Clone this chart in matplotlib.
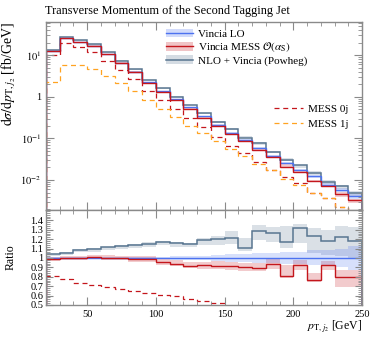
import numpy as np
import matplotlib
matplotlib.use("Agg")
import matplotlib.pyplot as plt
from matplotlib.ticker import FixedLocator, MultipleLocator, FuncFormatter, LogLocator, NullFormatter
from matplotlib.patches import Patch
from matplotlib.lines import Line2D

# ---------------- data ----------------
edges = [20, 30, 40, 50, 60, 70, 80, 90, 100, 110, 120, 130, 140, 150,
         160, 170, 180, 190, 200, 210, 220, 230, 240, 250]

vincia_lo = [12.6, 26.0, 20.9, 16.9, 10.5, 6.6, 4.05, 2.22, 1.39, 0.88, 0.56,
             0.341, 0.211, 0.138, 0.094, 0.059, 0.038, 0.0257, 0.0171,
             0.0122, 0.0077, 0.0058, 0.0041]
vincia_lo_err = [0.01, 0.01, 0.01, 0.01, 0.01, 0.012, 0.012, 0.015, 0.015,
                 0.02, 0.02, 0.025, 0.03, 0.04, 0.04, 0.05, 0.05, 0.06, 0.06,
                 0.08, 0.08, 0.1, 0.13]

vincia_mess = [12.42, 25.9, 20.96, 17.02, 10.53, 6.57, 4.01, 2.19, 1.326,
               0.827, 0.515, 0.315, 0.194, 0.126, 0.0846, 0.0527, 0.0354,
               0.0207, 0.0158, 0.00932, 0.00712, 0.0046, 0.00325]
vincia_mess_up = [0.02, 0.02, 0.02, 0.02, 0.03, 0.03, 0.03, 0.03, 0.04, 0.04,
                  0.04, 0.04, 0.05, 0.05, 0.05, 0.06, 0.06, 0.15, 0.06, 0.1,
                  0.05, 0.1, 0.1]
vincia_mess_dn = [0.02, 0.02, 0.02, 0.02, 0.02, 0.02, 0.03, 0.03, 0.03, 0.03,
                  0.03, 0.04, 0.04, 0.04, 0.04, 0.04, 0.05, 0.02, 0.06, 0.02,
                  0.06, 0.13, 0.13]

nlo_vincia = [13.1, 27.5, 22.7, 18.6, 11.7, 7.46, 4.60, 2.56, 1.63, 1.016,
              0.642, 0.406, 0.253, 0.167, 0.104, 0.0761, 0.0481, 0.0302,
              0.0226, 0.0150, 0.00905, 0.00708, 0.00482]
nlo_up = [0.005, 0.005, 0.005, 0.005, 0.005, 0.008, 0.008, 0.01, 0.01, 0.01,
          0.015, 0.02, 0.03, 0.06, 0.1, 0.05, 0.05, 0.14, 0.03, 0.07, 0.1,
          0.1, 0.13]
nlo_dn = [0.02, 0.02, 0.025, 0.03, 0.03, 0.03, 0.03, 0.03, 0.03, 0.03, 0.03,
          0.04, 0.05, 0.05, 0.03, 0.08, 0.08, 0.06, 0.12, 0.14, 0.12, 0.16,
          0.15]

mess_0j = [10.17, 20.15, 15.36, 12.0, 7.25, 4.42, 2.63, 1.40, 0.838, 0.522,
           0.316, 0.184, 0.111, 0.066, 0.045, 0.0276, 0.0174, 0.0115, 0.0083,
           0.0050, 0.0037, 0.0023, 0.0015]
mess_1j = [2.26, 5.68, 5.68, 4.65, 3.09, 2.14, 1.35, 0.85, 0.50, 0.32, 0.20,
           0.138, 0.086, 0.055, 0.038, 0.024, 0.0175, 0.0105, 0.0076, 0.0048,
           0.0036, 0.0023, 0.0015]

labels = ["Vincia LO", r"Vincia MESS $\mathcal{O}(\alpha_\mathrm{S})$",
          "NLO + Vincia (Powheg)", "MESS 0j", "MESS 1j"]
ratio_ticks = [0.5, 0.6, 0.7, 0.8, 0.9, 1.0, 1.1, 1.2, 1.3, 1.4]

# ---------------- style ----------------
plt.rcParams["font.family"] = ["Liberation Serif", "DejaVu Serif"]
plt.rcParams["mathtext.fontset"] = "stix"
C_LO = "#4d72f0"
C_MESS = "#c4161c"
C_NLO = "#587590"
C_0J = "#c4161c"
C_1J = "#ffa321"
GREY = "#8a8a8a"

W, H = 374, 337
fig = plt.figure(figsize=(W / 100, H / 100), dpi=100)
ax = fig.add_axes([46 / W, 1 - 210 / H, 316 / W, 188 / H])
rx = fig.add_axes([46 / W, 1 - 305 / H, 316 / W, 95 / H], sharex=ax)

e = np.array(edges, dtype=float)
lo = np.array(vincia_lo)
mess = np.array(vincia_mess)
nlo = np.array(nlo_vincia)
j0 = np.array(mess_0j)
j1 = np.array(mess_1j)
lo_err = np.array(vincia_lo_err)


def band(a, vals, up, dn, color, alpha):
    a.stairs(vals * (1 + np.array(up)), e, baseline=vals * (1 - np.array(dn)),
             fill=True, color=color, alpha=alpha, lw=0)


# main panel
band(ax, nlo, nlo_up, nlo_dn, C_NLO, 0.22)
band(ax, mess, vincia_mess_up, vincia_mess_dn, C_MESS, 0.22)
band(ax, lo, lo_err, lo_err, C_LO, 0.22)
ax.stairs(nlo, e, color=C_NLO, lw=1.1)
ax.stairs(lo, e, color=C_LO, lw=1.0)
ax.stairs(mess, e, color=C_MESS, lw=1.0)
ax.stairs(j0, e, color=C_0J, lw=0.9, ls=(0, (4, 3)))
ax.stairs(j1, e, color=C_1J, lw=0.9, ls=(0, (4, 3)))

ax.set_yscale("log")
ax.set_xlim(20, 250)
ax.set_ylim(0.0019, 63)

# ratio panel
band(rx, nlo / lo, nlo_up, nlo_dn, C_NLO, 0.22)
band(rx, mess / lo, vincia_mess_up, vincia_mess_dn, C_MESS, 0.22)
band(rx, lo / lo, lo_err, lo_err, C_LO, 0.22)
rx.stairs(nlo / lo, e, color=C_NLO, lw=1.1)
rx.stairs(lo / lo, e, color=C_LO, lw=1.0)
rx.stairs(mess / lo, e, color=C_MESS, lw=1.0)
rx.stairs(j0 / lo, e, color=C_0J, lw=0.9, ls=(0, (4, 3)))
rx.set_ylim(0.5, 1.51)

# ticks / spines
for a in (ax, rx):
    for s in a.spines.values():
        s.set_color(GREY)
        s.set_linewidth(1.0)
    a.tick_params(which="both", direction="in", color=GREY, labelsize=7.5,
                  top=True, right=True)
    a.tick_params(which="major", length=6)
    a.tick_params(which="minor", length=3)
    a.xaxis.set_major_locator(MultipleLocator(50))
    a.xaxis.set_minor_locator(MultipleLocator(10))

ax.yaxis.set_major_locator(LogLocator(base=10, numticks=10))
ax.yaxis.set_minor_locator(LogLocator(base=10, subs=np.arange(2, 10), numticks=20))
ax.yaxis.set_minor_formatter(NullFormatter())


def logfmt(v, pos):
    ex = int(round(np.log10(v)))
    return "1" if ex == 0 else r"$10^{%d}$" % ex


ax.yaxis.set_major_formatter(FuncFormatter(logfmt))
ax.tick_params(labelbottom=False)

rx.yaxis.set_major_locator(FixedLocator(ratio_ticks))
rx.yaxis.set_minor_locator(MultipleLocator(0.02))
rx.yaxis.set_major_formatter(FuncFormatter(lambda v, p: "%g" % round(v, 2)))
rx.tick_params(axis="y", which="major", length=5, labelsize=7.5, pad=2)

ax.set_ylabel(r"$\mathrm{d}\sigma/\mathrm{d}p_{\mathrm{T},j_2}$ [fb/GeV]",
              loc="top", fontsize=10)
rx.set_ylabel("Ratio", fontsize=8.5)
rx.set_xlabel(r"$p_{\mathrm{T},j_2}$ [GeV]", loc="right", fontsize=8.5,
              labelpad=0)
ax.yaxis.set_label_coords(-0.09, 1.0)
rx.yaxis.set_label_coords(-0.092, 0.5)

fig.text(45 / W, 1 - 11 / H, "Transverse Momentum of the Second Tagging Jet",
         ha="left", va="center", fontsize=8.8)

# legends
h1 = [(Patch(facecolor=C_LO, alpha=0.25, lw=0), Line2D([], [], color=C_LO, lw=1.0)),
      (Patch(facecolor=C_MESS, alpha=0.25, lw=0), Line2D([], [], color=C_MESS, lw=1.0)),
      (Patch(facecolor=C_NLO, alpha=0.25, lw=0), Line2D([], [], color=C_NLO, lw=1.1))]
leg1 = ax.legend(h1, labels[:3], loc="upper left", bbox_to_anchor=(0.355, 1.005),
                 frameon=False, fontsize=8, handlelength=2.4, handleheight=0.8,
                 labelspacing=0.12, handletextpad=0.5, borderaxespad=0.3)
ax.add_artist(leg1)
h2 = [Line2D([], [], color=C_0J, lw=0.9, ls=(0, (4, 3))),
      Line2D([], [], color=C_1J, lw=0.9, ls=(0, (4, 3)))]
ax.legend(h2, labels[3:], loc="upper left", bbox_to_anchor=(0.69, 0.615),
          frameon=False, fontsize=8, handlelength=2.6, labelspacing=0.45,
          handletextpad=0.5)

fig.savefig("out.png", dpi=100)
